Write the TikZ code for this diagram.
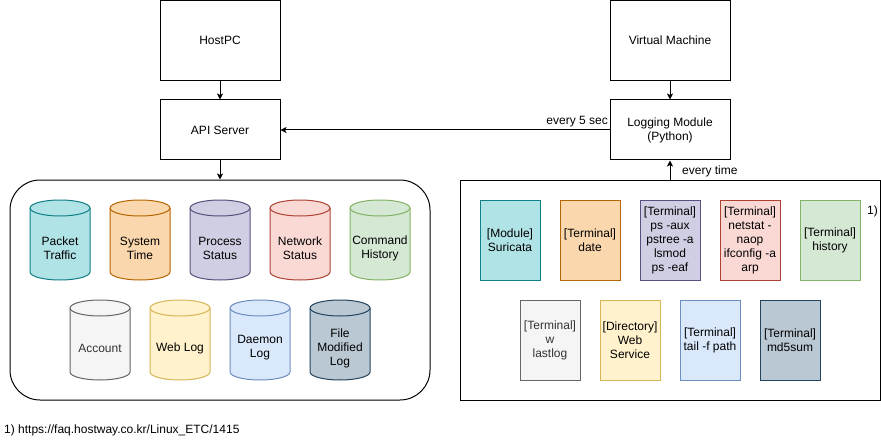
\documentclass[tikz,border=0pt]{standalone}
\usepackage{fontspec}
\setmainfont{Liberation Sans}
\usetikzlibrary{arrows.meta}
\definecolor{tealF}{HTML}{B0E3E6}\definecolor{tealS}{HTML}{0E8088}
\definecolor{orF}{HTML}{FAD7AC}\definecolor{orS}{HTML}{B46504}
\definecolor{puF}{HTML}{D0CEE2}\definecolor{puS}{HTML}{56517E}
\definecolor{reF}{HTML}{FAD9D5}\definecolor{reS}{HTML}{AE4132}
\definecolor{grF}{HTML}{D5E8D4}\definecolor{grS}{HTML}{82B366}
\definecolor{gyF}{HTML}{F5F5F5}\definecolor{gyS}{HTML}{666666}\definecolor{gyT}{HTML}{333333}
\definecolor{yeF}{HTML}{FFF2CC}\definecolor{yeS}{HTML}{D6B656}
\definecolor{blF}{HTML}{DAE8FC}\definecolor{blS}{HTML}{6C8EBF}
\definecolor{slF}{HTML}{BAC8D3}\definecolor{slS}{HTML}{23445D}
\newcommand\dbcyl[6]{%
  \filldraw[fill=#4,draw=#5,line width=1pt] (#2-30,#3+8) -- (#2-30,#3+72)
    arc[start angle=180,end angle=360,x radius=30pt,y radius=8pt] -- (#2+30,#3+8)
    arc[start angle=0,end angle=180,x radius=30pt,y radius=8pt] -- cycle;
  \draw[draw=#5,line width=1pt] (#2-30,#3+8) arc[start angle=180,end angle=360,x radius=30pt,y radius=8pt];
  \node[celltext] (#1) at (#2,#3+48) {#6};
}
\begin{document}
\begin{tikzpicture}[x=1pt,y=-1pt,
  every node/.style={font=\fontsize{12}{14}\selectfont},
  box/.style={draw,line width=1pt,minimum width=120pt,align=center,inner sep=0pt},
  celltext/.style={align=center,inner sep=0pt,font=\fontsize{12}{14}\selectfont},
  term/.style={draw,line width=1pt,minimum width=60pt,minimum height=80pt,inner sep=0pt,align=center,font=\fontsize{12}{14}\selectfont},
  arr/.style={line width=1pt,-{Stealth[length=6pt,width=6pt,inset=1.5pt]}},
  lbl/.style={font=\fontsize{12}{14}\selectfont,inner sep=0pt}]
\useasboundingbox (0,0) rectangle (881,441);
\node[box,minimum height=80pt] (host) at (220,40.5) {HostPC};
\node[box,minimum height=60pt] (api) at (220,130) {API Server};
\node[box,minimum height=80pt] (vm) at (670,40.5) {Virtual Machine};
\node[box,minimum height=60pt] (log) at (670,130) {Logging Module\\(Python)};
\node[draw,line width=1pt,rounded corners=30pt,minimum width=420pt,minimum height=220pt,inner sep=0pt] (store) at (220,290) {};
\node[draw,line width=1pt,minimum width=420pt,minimum height=220pt,inner sep=0pt] (coll) at (670,290) {};
\draw[arr] (host) -- (api);
\draw[arr] (vm) -- (log);
\draw[arr] (api) -- (store);
\draw[arr] (coll) -- (log);
\draw[arr] (log) -- (api);
\node[lbl,anchor=south east] (l5) at (608,127) {every 5 sec};
\node[lbl,anchor=west] (lt) at (682,171) {every time};
% cylinders
\dbcyl{c1}{60}{200}{tealF}{tealS}{Packet\\Traffic}
\dbcyl{c2}{140}{200}{orF}{orS}{System\\Time}
\dbcyl{c3}{220}{200}{puF}{puS}{Process\\Status}
\dbcyl{c4}{300}{200}{reF}{reS}{Network\\Status}
\dbcyl{c5}{380}{200}{grF}{grS}{Command\\History}
\dbcyl{c6}{100}{300}{gyF}{gyS}{\textcolor{gyT}{Account}}
\dbcyl{c7}{180}{300}{yeF}{yeS}{Web Log}
\dbcyl{c8}{260}{300}{blF}{blS}{Daemon\\Log}
\dbcyl{c9}{340}{300}{slF}{slS}{File\\Modified\\Log}
% terminal boxes
\node[term,fill=tealF,draw=tealS] (t1) at (510,240) {[Module]\\Suricata};
\node[term,fill=orF,draw=orS] (t2) at (590,240) {[Terminal]\\date};
\node[term,fill=puF,draw=puS] (t3) at (670,240) {[Terminal]\\ps -aux\\pstree -a\\lsmod\\ps -eaf};
\node[term,fill=reF,draw=reS] (t4) at (750,240) {[Terminal]\\netstat -\\naop\\ifconfig -a\\arp};
\node[term,fill=grF,draw=grS] (t5) at (830,240) {[Terminal]\\history};
\node[term,fill=gyF,draw=gyS,text=gyT] (t6) at (550,340) {[Terminal]\\w\\lastlog};
\node[term,fill=yeF,draw=yeS] (t7) at (630,340) {[Directory]\\Web\\Service};
\node[term,fill=blF,draw=blS] (t8) at (710,340) {[Terminal]\\tail -f path};
\node[term,fill=slF,draw=slS] (t9) at (790,340) {[Terminal]\\md5sum};
\node[lbl,anchor=west] (fn1) at (867,211) {1)};
\node[lbl,anchor=west] (fn) at (4,430) {1) https://faq.hostway.co.kr/Linux\_ETC/1415};
\end{tikzpicture}
\end{document}
